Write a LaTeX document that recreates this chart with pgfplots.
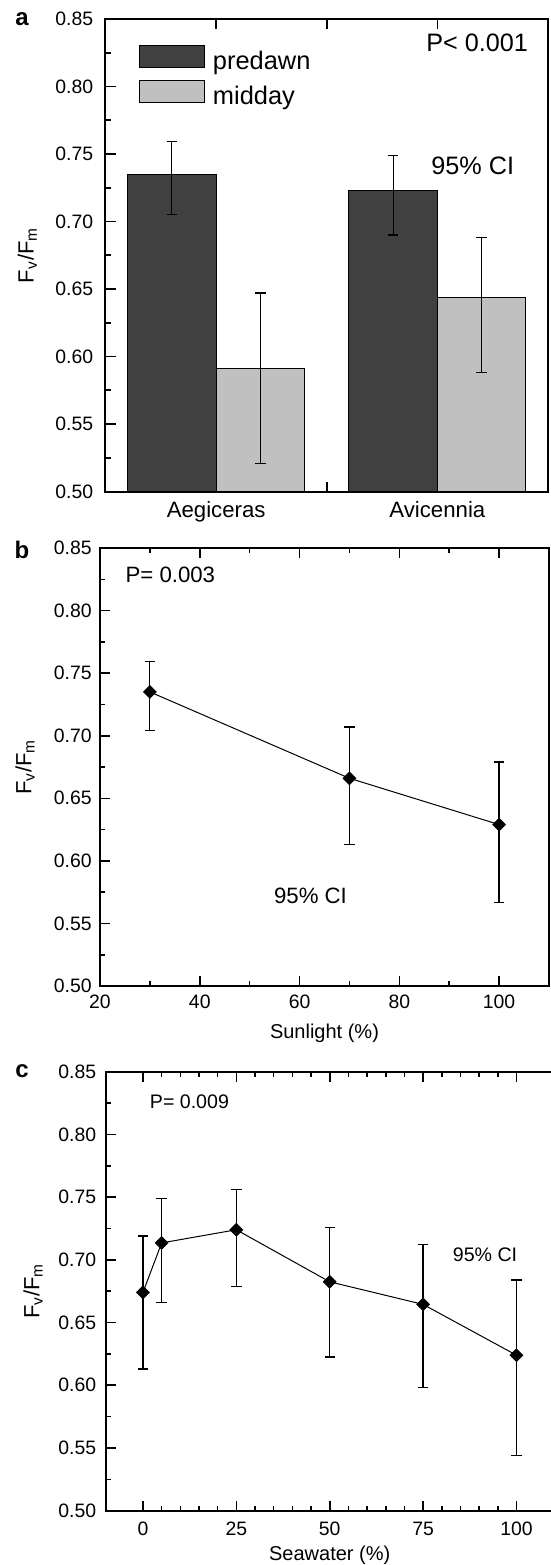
\documentclass[border=0pt]{standalone}
\usepackage{fontspec}
\setmainfont{Liberation Sans}
\usepackage{pgfplots}
\pgfplotsset{compat=1.18}
\definecolor{darkbar}{HTML}{404040}
\definecolor{lightbar}{HTML}{C0C0C0}

\pgfplotsset{
  fvbase/.style={
    scale only axis,
    anchor=south west,
    /pgf/number format/assume math mode=true,
    axis line style={line width=1pt},
    tick align=inside,
    major tick length=5pt, minor tick length=2.5pt,
    every tick/.style={black, line width=0.8pt},
    ytick pos=left,
    ymin=0.5, ymax=0.85,
    ytick={0.5,0.55,0.6,0.65,0.7,0.75,0.8,0.85},
    minor y tick num=1,
    scaled y ticks=false,
    yticklabel style={/pgf/number format/fixed, /pgf/number format/fixed zerofill,
      /pgf/number format/precision=2, anchor=east, inner sep=0pt},
    ticklabel style={font=\fontsize{9.7}{11}\selectfont},
    ylabel={F\textsubscript{v}/F\textsubscript{m}},
    ylabel style={font=\fontsize{11}{13}\selectfont, anchor=center},
    xticklabel style={anchor=north, inner sep=0pt},
  },
  errs/.style={error bars/.cd, y dir=both, y explicit,
    error bar style={line width=0.6pt, black},
    error mark options={rotate=90, line width=0.6pt, mark size=2.6pt, black}},
  barleg/.style={legend image code/.code={\draw[##1] (0pt,-2.5pt) rectangle (32.5pt,8.5pt); \path (36.5pt,0pt);}},
  dots/.style={black, line width=0.5pt, mark=square*, mark size=2.2pt,
    mark options={rotate=45, fill=black, solid}},
}

\begin{document}
\begin{tikzpicture}
\useasboundingbox (0,0) rectangle (275.5pt,-782.5pt);

% panel a
\begin{axis}[fvbase,
  at={(52.75pt,-245.75pt)}, width=221.25pt, height=236.25pt,
  xmin=-0.5, xmax=1.5,
  xtick={0,0.5,1}, xticklabels={Aegiceras,,Avicennia},
  xticklabel style={font=\fontsize{11.1}{13}\selectfont, yshift=-5pt},
  yticklabel style={xshift=-6pt},
  ylabel style={at={(axis description cs:-0.177,0.5)}},
  legend style={at={(axis description cs:0.0757,0.946)}, anchor=north west,
    draw=none, fill=none, inner sep=0pt, outer sep=0pt, row sep=3.5pt,
    font=\fontsize{12.7}{14}\selectfont, nodes={inner sep=0pt}},
  legend cell align=left,
]
\addplot[ybar, bar width=0.4, bar shift=0pt, fill=darkbar, draw=black, line width=0.5pt, barleg, errs]
  coordinates {(-0.2,0.735) += (0,0.024) -= (0,0.030) (0.8,0.723) += (0,0.026) -= (0,0.033)};
\addlegendentry{predawn}
\addplot[ybar, bar width=0.4, bar shift=0pt, fill=lightbar, draw=black, line width=0.5pt, barleg, errs]
  coordinates {(0.2,0.591) += (0,0.056) -= (0,0.070) (1.2,0.644) += (0,0.044) -= (0,0.056)};
\addlegendentry{midday}
\node[font=\fontsize{12.6}{14}\selectfont, inner sep=0pt] at (axis cs:1.18,0.832) {P< 0.001};
\node[font=\fontsize{12.6}{14}\selectfont, inner sep=0pt] at (axis cs:1.16,0.741) {95\% CI};
\end{axis}

% panel b
\begin{axis}[fvbase,
  at={(50pt,-493pt)}, width=224.5pt, height=219pt,
  xmin=20, xmax=110,
  xtick={20,40,60,80,100}, minor x tick num=1,
  xticklabel style={yshift=-4.5pt},
  yticklabel style={xshift=-4pt},
  ylabel style={at={(axis description cs:-0.167,0.5)}},
  xlabel={Sunlight (\%)},
  xlabel style={font=\fontsize{10}{12}\selectfont, at={(axis description cs:0.5,-0.107)}, anchor=center},
]
\addplot[dots, errs] coordinates {
  (30,0.735) += (0,0.024) -= (0,0.031)
  (70,0.666) += (0,0.041) -= (0,0.053)
  (100,0.629) += (0,0.050) -= (0,0.062)
};
\node[font=\fontsize{11.1}{13}\selectfont, inner sep=0pt] at (axis cs:34.1,0.8288) {P= 0.003};
\node[font=\fontsize{11.1}{13}\selectfont, inner sep=0pt] at (axis cs:62.2,0.5722) {95\% CI};
\end{axis}

% panel c
\begin{axis}[fvbase,
  at={(52.8pt,-755.35pt)}, width=224.1pt, height=219.5pt,
  xmin=-10, xmax=110,
  xtick={0,25,50,75,100}, minor x tick num=4,
  xticklabel style={yshift=-5.5pt},
  yticklabel style={xshift=-4.5pt},
  ylabel style={at={(axis description cs:-0.162,0.5)}},
  xlabel={Seawater (\%)},
  xlabel style={font=\fontsize{10}{12}\selectfont, at={(axis description cs:0.5,-0.101)}, anchor=center},
]
\addplot[dots, errs] coordinates {
  (0,0.674) += (0,0.045) -= (0,0.061)
  (5,0.7135) += (0,0.0355) -= (0,0.0475)
  (25,0.724) += (0,0.032) -= (0,0.045)
  (50,0.6825) += (0,0.043) -= (0,0.060)
  (75,0.6645) += (0,0.048) -= (0,0.0665)
  (100,0.624) += (0,0.060) -= (0,0.080)
};
\node[font=\fontsize{9.8}{12}\selectfont, inner sep=0pt] at (axis cs:12.45,0.8258) {P= 0.009};
\node[font=\fontsize{9.8}{12}\selectfont, inner sep=0pt] at (axis cs:91.6,0.7038) {95\% CI};
\end{axis}

\node[font=\bfseries\fontsize{12}{14}\selectfont, inner sep=0pt] at (11pt,-9.5pt) {a};
\node[font=\bfseries\fontsize{12}{14}\selectfont, inner sep=0pt] at (11pt,-275pt) {b};
\node[font=\bfseries\fontsize{12}{14}\selectfont, inner sep=0pt] at (11pt,-535.75pt) {c};
\end{tikzpicture}
\end{document}
